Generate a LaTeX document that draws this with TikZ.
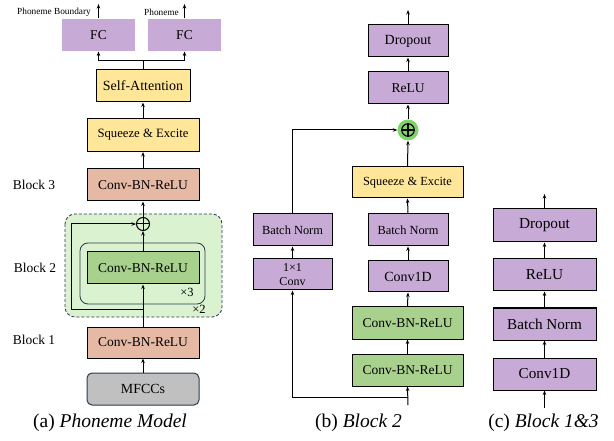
\documentclass[tikz,border=0pt]{standalone}
\usepackage{fontspec}
\setmainfont{Liberation Serif}
\usetikzlibrary{arrows.meta}
\definecolor{purp}{RGB}{200,170,215}
\definecolor{yel}{RGB}{255,230,153}
\definecolor{salm}{RGB}{230,185,165}
\definecolor{gbox}{RGB}{169,209,142}
\definecolor{greg}{RGB}{218,242,208}
\definecolor{gray1}{RGB}{192,192,192}
\definecolor{slate}{RGB}{40,60,80}
\definecolor{opg}{RGB}{126,211,107}
\newcommand{\setfs}[1]{\fontsize{#1}{#1}\selectfont}
\tikzset{
  box/.style={draw=black, line width=1pt, inner sep=0pt, align=center, font=\setfs{13.5}},
  pbox/.style={box, fill=purp},
  arr/.style={-{Stealth[length=4.5pt,width=3.5pt]}, line width=1pt},
  lab/.style={inner sep=0pt, font=\setfs{13.5}},
  captxt/.style={inner sep=0pt, font=\setfs{19.5}},
}
\begin{document}
\begin{tikzpicture}[x=1pt,y=-1pt]
\useasboundingbox (0,0) rectangle (614,441);
% ---------------- (a) ----------------
\draw[fill=greg, draw=slate, dashed, dash pattern=on 3pt off 2pt, line width=0.8pt, rounded corners=10pt] (65,214) rectangle (222,317);
\draw[draw=slate, line width=0.8pt, rounded corners=8pt] (80,243) rectangle (205,304);
\node[lab, font=\setfs{12.5}] (x3) at (187,292) {×3};
\node[lab, font=\setfs{12.5}] (x2) at (199,309.5) {×2};

\node[box, draw=none, fill=purp, minimum width=73pt, minimum height=32pt] (fc1) at (98.5,35) {FC};
\node[box, draw=none, fill=purp, minimum width=73pt, minimum height=32pt] (fc2) at (184.5,35) {FC};
\node[box, fill=yel, minimum width=94pt, minimum height=32pt, font=\setfs{14}] (sa) at (143,86) {Self-Attention};
\node[box, fill=yel, minimum width=112pt, minimum height=33pt, font=\setfs{12.7}] (se) at (143,135) {Squeeze \& Excite};
\node[box, fill=salm, minimum width=112pt, minimum height=32pt] (b3) at (143,185) {Conv-BN-ReLU};
\node[box, fill=gbox, minimum width=112pt, minimum height=32pt] (g) at (143,268) {Conv-BN-ReLU};
\node[box, fill=salm, minimum width=112pt, minimum height=31pt] (b1) at (143,342.5) {Conv-BN-ReLU};
\node[box, draw=slate, fill=gray1, rounded corners=5pt, minimum width=112pt, minimum height=32pt, font=\setfs{13.9}] (mf) at (143,389) {MFCCs};
\node[circle, draw=black, line width=1pt, minimum size=13pt, inner sep=0pt] (opa) at (143,224) {};
\draw[line width=1pt] (opa.north) -- (opa.south) (opa.west) -- (opa.east);

\node[lab] (l3) at (34,185) {Block 3};
\node[lab] (l2) at (35,268) {Block 2};
\node[lab] (l1) at (34,340) {Block 1};

\coordinate (o1) at (98.5,4);
\coordinate (o2) at (184.5,4);
\node[inner sep=0pt, anchor=east, font=\setfs{9.3}] (pb) at (91,12) {Phoneme Boundary};
\node[inner sep=0pt, anchor=east, font=\setfs{9.3}] (ph) at (179,12) {Phoneme};
\draw[arr] (fc1.north) -- (o1);
\draw[arr] (fc2.north) -- (o2);
\coordinate (br) at (143,61);
\draw[line width=1pt] (sa.north) -- (br);
\draw[arr] (br) -| (fc1.south);
\draw[arr] (br) -| (fc2.south);
\draw[arr] (se.north) -- (sa.south);
\draw[arr] (b3.north) -- (se.south);
\draw[arr] (opa.north) -- (b3.south);
\draw[arr] (g.north) -- (opa.south);
\draw[arr] (b1.north) -- (g.south);
\draw[arr] (mf.north) -- (b1.south);
\coordinate (ska) at (143,309);
\coordinate (skb) at (71,309);
\draw[arr] (ska) -- (skb) |- (opa.west);

\node[captxt] (ca) at (110,423) {(a) \textit{Phoneme Model}};

% ---------------- (b) ----------------
\node[pbox, minimum width=80pt, minimum height=32pt, font=\setfs{14}] (dr) at (408,41) {Dropout};
\node[pbox, minimum width=80pt, minimum height=32pt] (re) at (408,88) {ReLU};
\node[circle, fill=opg, minimum size=21pt, inner sep=0pt] (opbg) at (408,130) {};
\node[circle, draw=black, line width=1.1pt, minimum size=12.5pt, inner sep=0pt] (opb) at (408,130) {};
\draw[line width=1.1pt] (opb.north) -- (opb.south) (opb.west) -- (opb.east);
\node[box, fill=yel, minimum width=111pt, minimum height=31pt, font=\setfs{12.4}] (seb) at (407.5,182.5) {Squeeze \& Excite};
\node[pbox, minimum width=80pt, minimum height=32pt, font=\setfs{12.4}] (bnb) at (408,230) {Batch Norm};
\node[pbox, minimum width=80pt, minimum height=31pt, font=\setfs{14}] (cvb) at (408,276.5) {Conv1D};
\node[box, fill=gbox, minimum width=111pt, minimum height=32pt] (cb1) at (407.5,323) {Conv-BN-ReLU};
\node[box, fill=gbox, minimum width=111pt, minimum height=32pt] (cb2) at (407.5,370) {Conv-BN-ReLU};
\node[pbox, minimum width=79pt, minimum height=32pt, font=\setfs{12.4}] (bnl) at (292.5,230) {Batch Norm};
\node[pbox, minimum width=79pt, minimum height=31pt, font=\fontsize{12}{14}\selectfont] (c11) at (292.5,274.5) {1×1\\Conv};
\coordinate (inb) at (408,405);
\coordinate (brb) at (408,397);
\coordinate (brl) at (292.5,397);
\coordinate (outb) at (408,10);
\draw[arr] (inb) -- (cb2.south);
\draw[arr] (brb) -- (brl) -- (c11.south);
\draw[arr] (cb2.north) -- (cb1.south);
\draw[arr] (cb1.north) -- (cvb.south);
\draw[arr] (cvb.north) -- (bnb.south);
\draw[arr] (bnb.north) -- (seb.south);
\draw[arr] (seb.north) -- (opbg.south);
\draw[arr] (opbg.north) -- (re.south);
\draw[arr] (re.north) -- (dr.south);
\draw[arr] (dr.north) -- (outb);
\draw[arr] (c11.north) -- (bnl.south);
\draw[arr] (bnl.north) |- (opbg.west);
\node[captxt] (cb) at (358.5,423) {(b) \textit{Block 2}};

% ---------------- (c) ----------------
\node[pbox, minimum width=103pt, minimum height=33pt, font=\setfs{15.3}] (drc) at (544.5,225.5) {Dropout};
\node[pbox, minimum width=103pt, minimum height=32pt, font=\setfs{15.3}] (rec) at (544.5,275) {ReLU};
\node[pbox, minimum width=103pt, minimum height=32pt, font=\setfs{15.2}] (bnc) at (544.5,324) {Batch Norm};
\node[pbox, minimum width=103pt, minimum height=32pt, font=\setfs{15.2}] (cvc) at (544.5,374) {Conv1D};
\coordinate (inc) at (544.5,408);
\coordinate (outc) at (544.5,194);
\draw[arr] (inc) -- (cvc.south);
\draw[arr] (cvc.north) -- (bnc.south);
\draw[arr] (bnc.north) -- (rec.south);
\draw[arr] (rec.north) -- (drc.south);
\draw[arr] (drc.north) -- (outc);
\node[captxt] (cc) at (543.5,423) {(c) \textit{Block 1\&3}};
\end{tikzpicture}
\end{document}
